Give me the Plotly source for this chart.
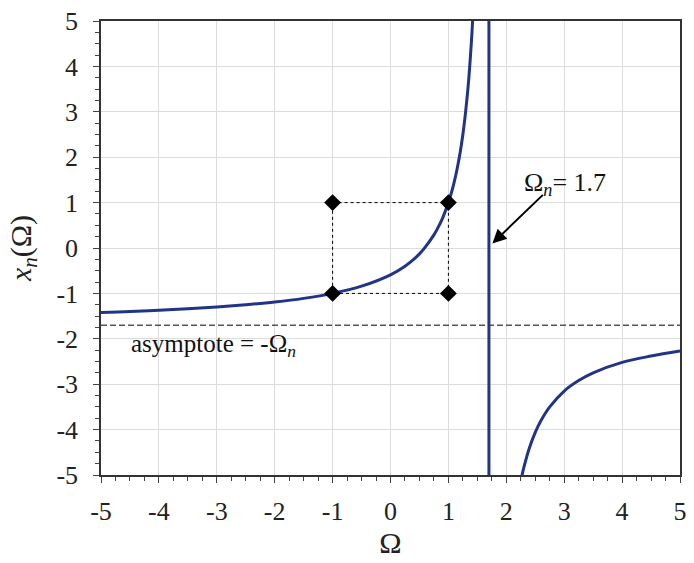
import plotly.graph_objects as go

# Left branch of x_n(Omega)
omega_left = [-5, -4.5, -4, -3.5, -3, -2.5, -2, -1.5, -1, -0.5, 0, 0.25, 0.4, 0.5, 0.6,
              0.75, 0.8, 0.9, 1, 1.05, 1.1, 1.15, 1.2, 1.25, 1.3, 1.35, 1.4, 1.42]
x_left = [-1.42, -1.40, -1.37, -1.34, -1.30, -1.25, -1.19, -1.11, -1.00, -0.84, -0.59, -0.40,
          -0.25, -0.13, 0.02, 0.29, 0.40, 0.66, 1.00, 1.21, 1.45, 1.74, 2.08, 2.50, 3.03,
          3.70, 4.60, 5.05]
# Right branch
omega_right = [2.27, 2.3, 2.4, 2.5, 2.6, 2.75, 3, 3.25, 3.5, 4, 4.5, 5]
x_right = [-5.02, -4.85, -4.40, -4.06, -3.80, -3.50, -3.15, -2.92, -2.75, -2.52, -2.38, -2.27]

omega_n = 1.7
asymptote = -1.7
corner_x = [-1, 1, -1, 1]
corner_y = [1, 1, -1, -1]
ticks = [-5, -4, -3, -2, -1, 0, 1, 2, 3, 4, 5]
tick_text = ["-5", "-4", "-3", "-2", "-1", "0", "1", "2", "3", "4", "5"]

blue = "#213588"
font_family = "Liberation Serif, Times New Roman, serif"

fig = go.Figure()

# dotted rectangle
fig.add_trace(go.Scatter(x=[-1, 1, 1, -1, -1], y=[1, 1, -1, -1, 1], mode="lines",
                         line=dict(color="black", width=1, dash="dot"), hoverinfo="skip"))
# asymptote dashed line
fig.add_trace(go.Scatter(x=[-5, 5], y=[asymptote, asymptote], mode="lines",
                         line=dict(color="black", width=1, dash="6px,3px")))
# curves
fig.add_trace(go.Scatter(x=omega_left, y=x_left, mode="lines", line=dict(color=blue, width=3, shape="spline")))
fig.add_trace(go.Scatter(x=omega_right, y=x_right, mode="lines", line=dict(color=blue, width=3, shape="spline")))
# vertical line at omega_n
fig.add_trace(go.Scatter(x=[omega_n, omega_n], y=[-5, 5], mode="lines", line=dict(color=blue, width=3)))
# corner markers
fig.add_trace(go.Scatter(x=corner_x, y=corner_y, mode="markers",
                         marker=dict(symbol="diamond", size=13, color="black")))

tickfont = dict(family=font_family, size=26, color="#222")

axis_common = dict(
    range=[-5, 5], tickmode="array", tickvals=ticks, ticktext=tick_text, ticks="outside",
    ticklen=6, tickwidth=1, tickcolor="#444",
    showline=True, linecolor="#333", linewidth=1.5, mirror=True,
    showgrid=True, gridcolor="#dcdcdc", gridwidth=1, zeroline=False,
    minor=dict(dtick=0.25, ticks="outside", ticklen=4, tickcolor="#444", showgrid=False),
    tickfont=tickfont,
)

fig.update_layout(
    width=694, height=563,
    margin=dict(l=101, r=7, t=14, b=88),
    plot_bgcolor="white", paper_bgcolor="white",
    showlegend=False,
    font=dict(family=font_family, size=26, color="#222"),
    xaxis=dict(**axis_common, ticklabelstandoff=6,
               title=dict(text="Ω", font=dict(family=font_family, size=30), standoff=4)),
    yaxis=dict(**axis_common, ticklabelstandoff=10,
               title=dict(text="<i>x</i><sub><i>n</i></sub>(Ω)",
                          font=dict(family=font_family, size=30), standoff=16)),
)

fig.add_annotation(x=1.76, y=0.1, ax=52, ay=-50, xref="x", yref="y", text="", showarrow=True,
                   arrowhead=2, arrowsize=1.4, arrowwidth=2, arrowcolor="black")
fig.add_annotation(x=3.02, y=1.4, xref="x", yref="y", showarrow=False,
                   text="Ω<sub><i>n</i></sub>= 1.7", font=dict(family=font_family, size=26, color="#111"))
fig.add_annotation(x=-3.05, y=-2.14, xref="x", yref="y", showarrow=False,
                   text="asymptote = -Ω<sub><i>n</i></sub>", font=dict(family=font_family, size=25, color="#111"))

fig.write_html("out.html")
